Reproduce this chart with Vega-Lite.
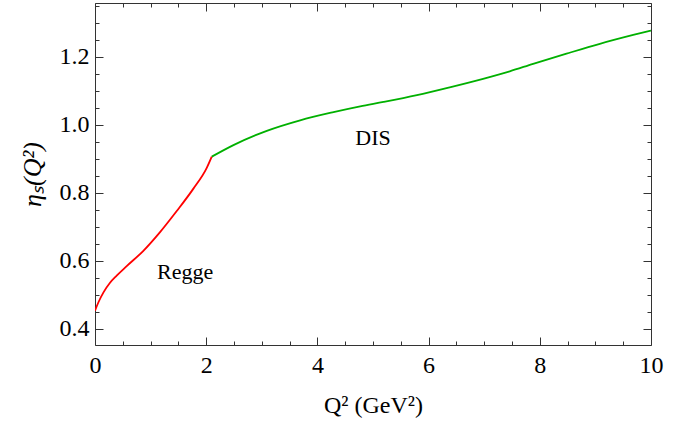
{
  "$schema": "https://vega.github.io/schema/vega-lite/v6.json",
  "width": 556,
  "height": 342,
  "autosize": {"type": "none"},
  "padding": {"left": 95, "top": 3, "right": 42, "bottom": 79},
  "background": "white",
  "config": {
    "view": {"stroke": "#333", "strokeWidth": 1},
    "axis": {"labelFont": "Liberation Serif, Times New Roman, serif", "titleFont": "Liberation Serif, Times New Roman, serif", "labelColor": "black", "titleColor": "black", "domain": false, "grid": false, "tickColor": "#333", "tickWidth": 1}
  },
  "datasets": {
    "curves": [
      {"q2": 0.0, "eta": 0.453, "series": "Regge"},
      {"q2": 0.06, "eta": 0.477, "series": "Regge"},
      {"q2": 0.15, "eta": 0.506, "series": "Regge"},
      {"q2": 0.27, "eta": 0.535, "series": "Regge"},
      {"q2": 0.39, "eta": 0.556, "series": "Regge"},
      {"q2": 0.57, "eta": 0.584, "series": "Regge"},
      {"q2": 0.87, "eta": 0.629, "series": "Regge"},
      {"q2": 1.17, "eta": 0.684, "series": "Regge"},
      {"q2": 1.47, "eta": 0.746, "series": "Regge"},
      {"q2": 1.77, "eta": 0.812, "series": "Regge"},
      {"q2": 2.01, "eta": 0.873, "series": "Regge"},
      {"q2": 2.1, "eta": 0.906, "series": "Regge"},
      {"q2": 2.1, "eta": 0.906, "series": "DIS"},
      {"q2": 2.49, "eta": 0.94, "series": "DIS"},
      {"q2": 3.09, "eta": 0.982, "series": "DIS"},
      {"q2": 3.69, "eta": 1.013, "series": "DIS"},
      {"q2": 4.29, "eta": 1.037, "series": "DIS"},
      {"q2": 4.77, "eta": 1.054, "series": "DIS"},
      {"q2": 5.19, "eta": 1.067, "series": "DIS"},
      {"q2": 5.79, "eta": 1.087, "series": "DIS"},
      {"q2": 6.38, "eta": 1.11, "series": "DIS"},
      {"q2": 6.98, "eta": 1.135, "series": "DIS"},
      {"q2": 7.46, "eta": 1.157, "series": "DIS"},
      {"q2": 7.88, "eta": 1.179, "series": "DIS"},
      {"q2": 8.48, "eta": 1.209, "series": "DIS"},
      {"q2": 9.08, "eta": 1.238, "series": "DIS"},
      {"q2": 9.68, "eta": 1.264, "series": "DIS"},
      {"q2": 10.0, "eta": 1.277, "series": "DIS"}
    ],
    "labels": [
      {"q2": 1.62, "eta": 0.567, "text": "Regge"},
      {"q2": 5.0, "eta": 0.961, "text": "DIS"}
    ]
  },
  "resolve": {"axis": {"x": "independent", "y": "independent"}},
  "layer": [
    {
      "data": {"name": "curves"},
      "mark": {"type": "line", "strokeWidth": 1.8, "clip": true, "interpolate": "monotone"},
      "encoding": {
        "x": {"field": "q2", "type": "quantitative", "scale": {"domain": [0, 10], "nice": false, "zero": false},
          "axis": {"orient": "bottom", "title": "Q² (GeV²)", "titleFontSize": 24, "titleFontWeight": "normal", "titlePadding": 12,
            "values": [0,0.5,1,1.5,2,2.5,3,3.5,4,4.5,5,5.5,6,6.5,7,7.5,8,8.5,9,9.5,10],
            "tickSize": {"expr": "datum.value % 2 == 0 ? -8 : -4"},
            "labelExpr": "datum.value % 2 == 0 ? format(datum.value, 'd') : ''",
            "labelFontSize": 24, "labelPadding": 16, "labelFlush": false, "labelOverlap": false}},
        "y": {"field": "eta", "type": "quantitative", "scale": {"domain": [0.352, 1.358], "nice": false, "zero": false},
          "axis": {"orient": "left", "title": "ηₛ(Q²)", "titleFontSize": 26, "titleFontWeight": "normal", "titleFontStyle": "italic", "titlePadding": 14,
            "values": [0.4,0.45,0.5,0.55,0.6,0.65,0.7,0.75,0.8,0.85,0.9,0.95,1.0,1.05,1.1,1.15,1.2,1.25,1.3,1.35],
            "tickSize": {"expr": "round(datum.value*100) % 20 == 0 ? -8 : -4"},
            "labelExpr": "round(datum.value*100) % 20 == 0 ? format(datum.value, '.1f') : ''",
            "labelFontSize": 24, "labelPadding": 14, "labelOverlap": false, "labelFlush": false}},
        "color": {"field": "series", "type": "nominal", "scale": {"domain": ["Regge", "DIS"], "range": ["#ff0000", "#00b000"]}, "legend": null}
      }
    },
    {
      "data": {"name": "labels"},
      "mark": {"type": "text", "font": "Liberation Serif, Times New Roman, serif", "fontSize": 22, "color": "black", "align": "center", "baseline": "middle"},
      "encoding": {
        "x": {"field": "q2", "type": "quantitative", "scale": {"domain": [0, 10], "nice": false, "zero": false},
          "axis": {"orient": "top", "title": null, "labels": false,
            "values": [0,0.5,1,1.5,2,2.5,3,3.5,4,4.5,5,5.5,6,6.5,7,7.5,8,8.5,9,9.5,10],
            "tickSize": {"expr": "datum.value % 2 == 0 ? -8 : -4"}}},
        "y": {"field": "eta", "type": "quantitative", "scale": {"domain": [0.352, 1.358], "nice": false, "zero": false},
          "axis": {"orient": "right", "title": null, "labels": false,
            "values": [0.4,0.45,0.5,0.55,0.6,0.65,0.7,0.75,0.8,0.85,0.9,0.95,1.0,1.05,1.1,1.15,1.2,1.25,1.3,1.35],
            "tickSize": {"expr": "round(datum.value*100) % 20 == 0 ? -8 : -4"}}},
        "text": {"field": "text", "type": "nominal"}
      }
    }
  ]
}
